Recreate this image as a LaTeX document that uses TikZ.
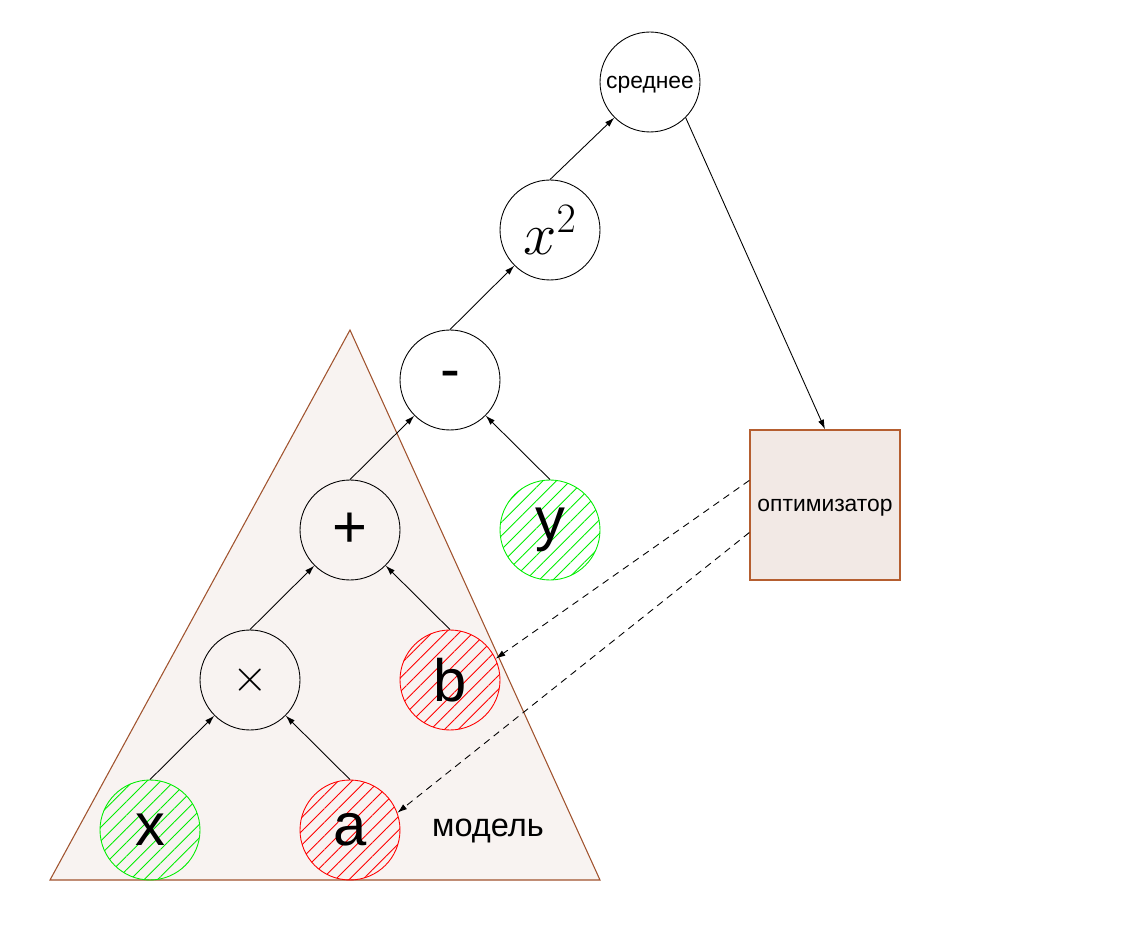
\RequirePackage{fix-cm}
\documentclass[tikz,border=0pt]{standalone}
\usepackage{fontspec}
\setmainfont{Liberation Sans}
\usepackage{amsmath}
\usetikzlibrary{arrows.meta, patterns.meta, calc}
\definecolor{ModelFill}{HTML}{F8F3F1}
\definecolor{ModelEdge}{HTML}{A0522D}
\definecolor{OptFill}{HTML}{F2E9E5}
\definecolor{OptEdge}{HTML}{B55E30}
\definecolor{DataGreen}{HTML}{00EE00}
\definecolor{ParamRed}{HTML}{FF0000}

\begin{document}
\begin{tikzpicture}[
    x=0.02cm, y=-0.02cm,
    op/.style={
      circle, draw, line width=0.5pt, minimum size=2cm, inner sep=0pt,
      font=\fontsize{34}{40}\selectfont
    },
    data/.style={
      op, draw=DataGreen, pattern color=DataGreen,
      pattern={Lines[angle=45, distance=5.5pt, line width=0.5pt]}
    },
    param/.style={
      op, draw=ParamRed, pattern color=ParamRed,
      pattern={Lines[angle=45, distance=5.5pt, line width=0.5pt]}
    },
    optbox/.style={
      rectangle, draw=OptEdge, fill=OptFill, line width=0.8pt,
      minimum size=3cm, inner sep=0pt, text depth=0pt,
      font=\fontsize{13}{15}\selectfont
    },
    rel/.style={-{Latex[length=5.5pt, width=3.5pt]}, line width=0.5pt},
    upd/.style={rel, dash pattern=on 4pt off 3pt}
  ]
    \useasboundingbox (0,0) rectangle (1128,928);

    % model region
    \draw[ModelEdge, fill=ModelFill, line width=0.6pt]
      (350,330) -- (600,880) -- (50,880) -- cycle;
    \node[font=\fontsize{18.5}{22}\selectfont] (model) at (488,831) {модель};

    \node[data] (x) at (150,830) {x};
    \node[param] (a) at (350,830) {a};
    \node[op, font=\fontsize{26}{30}\selectfont] (mul) at (250,680) {$\times$};
    \node[param] (b) at (450,680) {b};
    \node[op] (plus) at (350,530) {+};
    \node[data] (y) at (550,530) {y};
    \node[op] (minus) at (450,380) {-};
    \node[op, font=\fontsize{34}{40}\selectfont] (sq) at (550,230) {$x^2$};
    \node[op, text depth=0pt, font=\fontsize{13}{15}\selectfont] (mean) at (650,82) {среднее};
    \node[optbox] (opt) at (825,505) {оптимизатор};

    \draw[rel] (x.north) -- (mul.south west);
    \draw[rel] (a.north) -- (mul.south east);
    \draw[rel] (mul.north) -- (plus.south west);
    \draw[rel] (b.north) -- (plus.south east);
    \draw[rel] (plus.north) -- (minus.south west);
    \draw[rel] (y.north) -- (minus.south east);
    \draw[rel] (minus.north) -- (sq.south west);
    \draw[rel] (sq.north) -- (mean.south west);
    \draw[rel] (mean.south east) -- (opt.north);

    \draw[upd] (opt.162) -- (b.25);
    \draw[upd] (opt.200) -- (a.20);
  \end{tikzpicture}
\end{document}
